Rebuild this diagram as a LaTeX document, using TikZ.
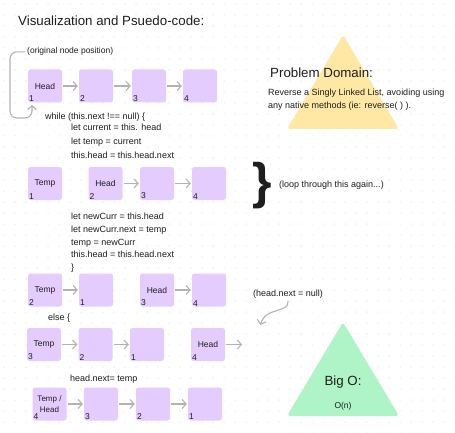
\documentclass[tikz,border=0pt]{standalone}
\usepackage{fontspec}
\setmainfont{Liberation Sans}
\usetikzlibrary{arrows.meta}
\definecolor{nodepurple}{HTML}{E4CCFF}
\definecolor{pdyellow}{HTML}{FFE8A3}
\definecolor{bogreen}{HTML}{AFF4C6}
\definecolor{arrowgray}{HTML}{B3B3B3}
\definecolor{dotgray}{HTML}{C8C8C8}
\definecolor{ink}{HTML}{1E1E1E}
\begin{document}
\begin{tikzpicture}[x=1pt,y=-1pt,
  listnode/.style={fill=nodepurple,rounded corners=2.5pt,minimum width=34pt,minimum height=33pt,inner sep=0pt,font=\fontsize{8.5}{10}\selectfont,text=ink},
  num/.style={font=\fontsize{8.5}{10}\selectfont,inner sep=1pt,text=ink},
  link/.style={draw=arrowgray,line width=1.1pt,shorten <=1pt,shorten >=1pt,-{Straight Barb[length=4pt,width=9pt]}},
  code/.style={anchor=base west,inner sep=0pt,font=\fontsize{9}{11}\selectfont,text=ink},
  heading/.style={inner sep=0pt,font=\fontsize{13.3}{15}\selectfont,text=ink}]
 \useasboundingbox[fill=white] (0,0) rectangle (455,433);
 % dot grid
 \foreach \i in {0,...,41}
  \foreach \j in {0,...,39}
   \fill[dotgray] (4+11*\i,4+11*\j) circle (0.5pt);
 \node[heading,anchor=base west] (title) at (18,26) {Visualization and Psuedo-code:};

 % problem domain and big o
 \fill[pdyellow,rounded corners=3pt] (343,35) -- (399,129) -- (287,129) -- cycle;
 \node[heading,anchor=base west] (pdtitle) at (270,78) {Problem Domain:};
 \node[code] (pdtext1) at (268,96) {Reverse a Singly Linked List, avoiding using};
 \node[code] (pdtext2) at (268,109) {any native methods (ie: reverse( ) ).};
 \fill[bogreen,rounded corners=3pt] (343,322) -- (399,416) -- (287,416) -- cycle;
 \node[heading] (bigo) at (343,382) {Big O:};
 \node[num] (bigon) at (343,406) {O(n)};

 % row 1
 \node[listnode,label={[num,anchor=south west]south west:1}] (a1) at (45,86) {Head};
 \node[listnode,label={[num,anchor=south west]south west:2}] (a2) at (96,86) {};
 \node[listnode,label={[num,anchor=south west]south west:3}] (a3) at (149,86) {};
 \node[listnode,label={[num,anchor=south west]south west:4}] (a4) at (200,86) {};
 \draw[link] (a1) -- (a2);
 \draw[link] (a2) -- (a3);
 \draw[link] (a3) -- (a4);
 \node[code,font=\fontsize{8.5}{10}\selectfont] (orignote) at (27,54) {(original node position)};
 \coordinate (loopend) at (32,104);
 \draw[link,shorten <=2pt,rounded corners=7pt] (orignote.west) -| (10,118) -| (loopend);
 \node[code] (c1) at (45,120) {while (this.next !== null) \{};
 \node[code] (c2) at (71,131) {let current = this. head};
 \node[code] (c3) at (71,145) {let temp = current};
 \node[code] (c4) at (71,158) {this.head = this.head.next};

 % row 2
 \node[listnode,label={[num,anchor=south west]south west:1}] (b1) at (45,183.5) {Temp};
 \node[listnode,label={[num,anchor=south west]south west:2}] (b2) at (105.5,183.5) {Head};
 \node[listnode,label={[num,anchor=south west]south west:3}] (b3) at (157,183.5) {};
 \node[listnode,label={[num,anchor=south west]south west:4}] (b4) at (209,183.5) {};
 \draw[link] (b2) -- (b3);
 \draw[link] (b3) -- (b4);
 \node[inner sep=0pt,font=\fontsize{50}{50}\selectfont\bfseries,text=ink] (brace) at (262,186) {\}};
 \node[code] (loopnote) at (279,187) {(loop through this again...)};
 \node[code] (c5) at (71,219) {let newCurr = this.head};
 \node[code] (c6) at (71,232) {let newCurr.next = temp};
 \node[code] (c7) at (71,245) {temp = newCurr};
 \node[code] (c8) at (71,257) {this.head = this.head.next};
 \node[code] (c9) at (71,270) {\}};

 % row 3
 \node[listnode,label={[num,anchor=south west]south west:2}] (d1) at (45,290) {Temp};
 \node[listnode,label={[num,anchor=south west]south west:1}] (d2) at (96,290) {};
 \node[listnode,label={[num,anchor=south west]south west:3}] (d3) at (157,290) {Head};
 \node[listnode,label={[num,anchor=south west,yshift=-1pt]south west:4}] (d4) at (209,290) {};
 \draw[link] (d1) -- (d2);
 \draw[link] (d3) -- (d4);
 \node[code] (c10) at (48,320) {else \{};
 \node[code] (nullnote) at (253,296) {(head.next = null)};
 \coordinate (nullstart) at (288,300);
 \coordinate (nullend) at (260,326);
 \draw[link] (nullstart) .. controls (289,314) and (266,306) .. (nullend);

 % row 4
 \node[listnode,label={[num,anchor=south west]south west:3}] (e1) at (44,344.5) {Temp};
 \node[listnode,label={[num,anchor=south west]south west:2}] (e2) at (95.5,344.5) {};
 \node[listnode,label={[num,anchor=south west]south west:1}] (e3) at (147,344.5) {};
 \node[listnode,label={[num,anchor=south west]south west:4}] (e4) at (208,344.5) {Head};
 \coordinate (e5) at (243,344.5);
 \draw[link] (e1) -- (e2);
 \draw[link] (e2) -- (e3);
 \draw[link] (e4) -- (e5);
 \node[code] (c11) at (70,381) {head.next= temp};

 % row 5
 \node[listnode,align=center,font=\fontsize{8}{11}\selectfont,label={[num,anchor=south west]south west:4}] (f1) at (49.5,404) {Temp /\\Head};
 \node[listnode,label={[num,anchor=south west]south west:3}] (f2) at (101,404) {};
 \node[listnode,label={[num,anchor=south west]south west:2}] (f3) at (153,404) {};
 \node[listnode,label={[num,anchor=south west]south west:1}] (f4) at (205,404) {};
 \draw[link] (f1) -- (f2);
 \draw[link] (f2) -- (f3);
 \draw[link] (f3) -- (f4);
\end{tikzpicture}
\end{document}
